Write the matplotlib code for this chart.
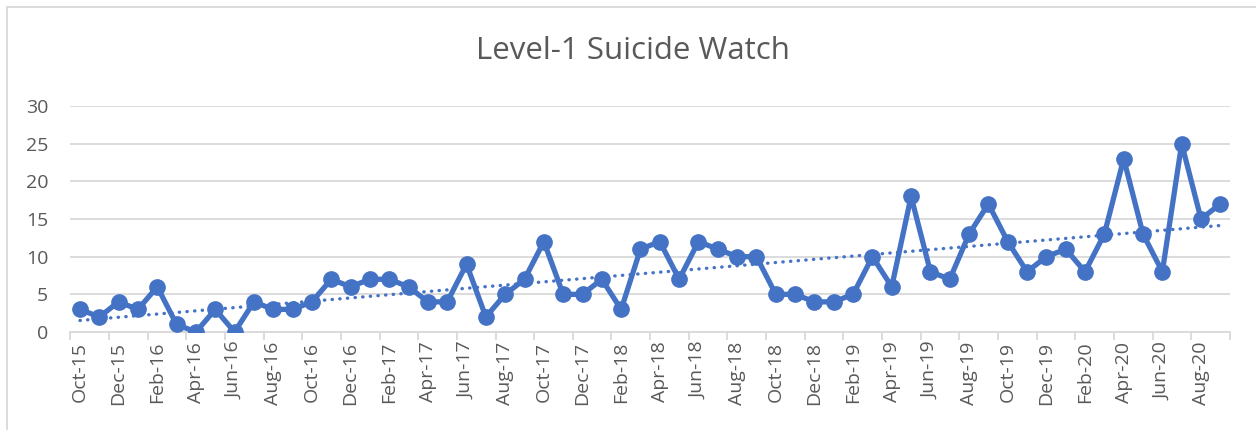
import numpy as np
import matplotlib
matplotlib.use('Agg')
import matplotlib.pyplot as plt
from matplotlib.patches import Rectangle

plt.rcParams['font.family'] = ['Open Sans', 'DejaVu Sans']

months = ['Oct-15', 'Nov-15', 'Dec-15', 'Jan-16', 'Feb-16', 'Mar-16', 'Apr-16', 'May-16', 'Jun-16',
          'Jul-16', 'Aug-16', 'Sep-16', 'Oct-16', 'Nov-16', 'Dec-16', 'Jan-17', 'Feb-17', 'Mar-17',
          'Apr-17', 'May-17', 'Jun-17', 'Jul-17', 'Aug-17', 'Sep-17', 'Oct-17', 'Nov-17', 'Dec-17',
          'Jan-18', 'Feb-18', 'Mar-18', 'Apr-18', 'May-18', 'Jun-18', 'Jul-18', 'Aug-18', 'Sep-18',
          'Oct-18', 'Nov-18', 'Dec-18', 'Jan-19', 'Feb-19', 'Mar-19', 'Apr-19', 'May-19', 'Jun-19',
          'Jul-19', 'Aug-19', 'Sep-19', 'Oct-19', 'Nov-19', 'Dec-19', 'Jan-20', 'Feb-20', 'Mar-20',
          'Apr-20', 'May-20', 'Jun-20', 'Jul-20', 'Aug-20', 'Sep-20']
watch = [3, 2, 4, 3, 6, 1, 0, 3, 0, 4, 3, 3, 4, 7, 6, 7, 7, 6, 4, 4, 9, 2, 5, 7, 12, 5, 5, 7, 3,
         11, 12, 7, 12, 11, 10, 10, 5, 5, 4, 4, 5, 10, 6, 18, 8, 7, 13, 17, 12, 8, 10, 11, 8, 13,
         23, 13, 8, 25, 15, 17]

blue = '#4472C4'
grey = '#595959'

x = np.arange(len(months))
fig = plt.figure(figsize=(12.56, 4.30), dpi=100)
ax = fig.add_axes([70.3 / 1256, 98 / 430, (1230 - 70.3) / 1256, 226 / 430])

# linear trend line (like Excel's trendline)
k, b = np.polyfit(x, watch, 1)
ax.plot(x, k * x + b, color=blue, lw=2.4, linestyle=(0, (0.1, 2.2)), dash_capstyle='round', zorder=2)
ax.plot(x, watch, color=blue, lw=3.8, marker='o', markersize=11, zorder=3)

ax.set_xlim(-0.5, len(months) - 0.5)
ax.set_ylim(0, 30)
ax.set_yticks(range(0, 31, 5))
ax.grid(axis='y', color='#d9d9d9', lw=1.3)
ax.set_axisbelow(True)

ax.set_xticks(x[::2])
ax.set_xticklabels(months[::2], rotation=90)
ax.set_xticks(np.arange(-0.5, len(months), 2), minor=True)
ax.tick_params(axis='x', which='major', length=0, pad=7, labelsize=14, labelcolor=grey)
ax.tick_params(axis='x', which='minor', length=6, color='#d9d9d9', width=1.3)
ax.tick_params(axis='y', length=0, pad=16, labelsize=14, labelcolor=grey)

for s in ['top', 'right', 'left']:
    ax.spines[s].set_visible(False)
ax.spines['bottom'].set_color('#d9d9d9')
ax.spines['bottom'].set_linewidth(1.3)

fig.text(633 / 1256, 1 - 51 / 430, 'Level-1 Suicide Watch', ha='center', va='center',
         fontsize=22.5, color=grey)

fig.patches.append(Rectangle((7 / 1256, -0.1), 1.2, 1 - 7 / 430 + 0.1, transform=fig.transFigure,
                             fill=False, edgecolor='#d9d9d9', lw=1.3))

fig.savefig('out.png', dpi=100)
